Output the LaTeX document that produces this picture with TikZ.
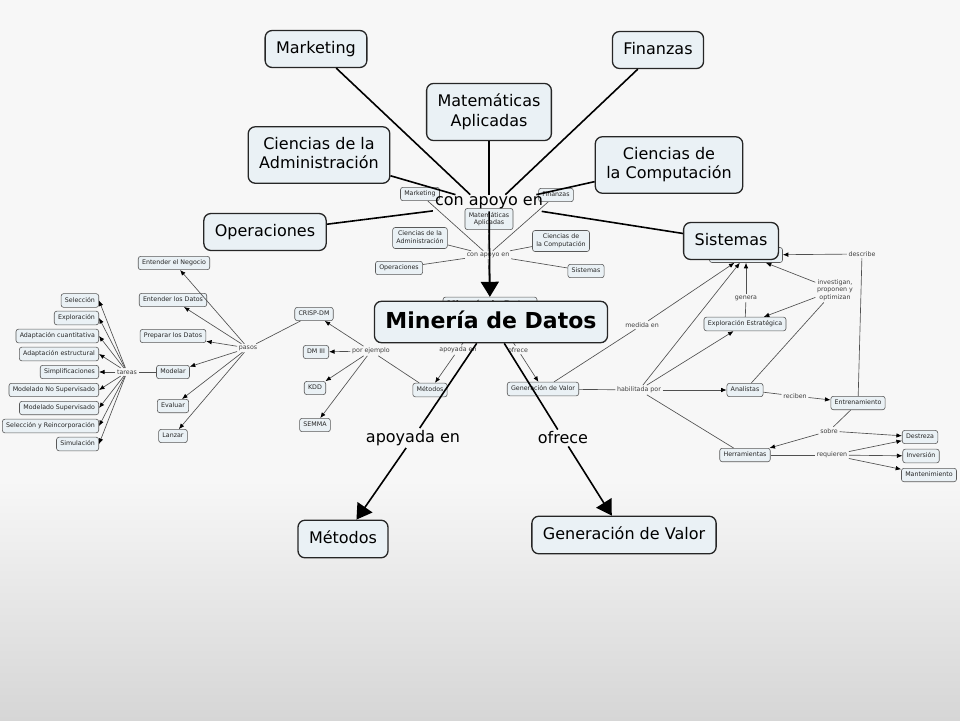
\documentclass[tikz,border=0pt]{standalone}
\usepackage{fontspec}
\setmainfont{DejaVu Sans}
\usepackage{tikz}
\usetikzlibrary{arrows.meta}

\definecolor{nodefill}{HTML}{EAF1F5}
\definecolor{bgtop}{HTML}{F7F7F7}
\definecolor{bgbottom}{HTML}{D6D6D6}
\definecolor{linkgray}{HTML}{505050}

\begin{document}
\begin{tikzpicture}[x=1pt, y=-1pt,
  bigbox/.style={draw=black!85, line width=1.3pt, rounded corners=7pt, fill=nodefill, align=center, font=\fontsize{16}{19.5}\selectfont, inner xsep=11pt, inner ysep=10.5pt, text depth=3.8pt},
  smallbox/.style={draw=black!65, line width=0.6pt, rounded corners=2.5pt, fill=nodefill, align=center, font=\fontsize{6.3}{7.6}\selectfont, text=black!85, inner xsep=3.8pt, inner ysep=3.6pt, text depth=1.4pt},
  biglabel/.style={font=\fontsize{16}{19.5}\selectfont, inner sep=2pt},
  smalllabel/.style={font=\fontsize{6.3}{7.6}\selectfont, text=black!75, inner sep=1.6pt, align=center},
  thinlink/.style={line width=0.65pt, linkgray},
  thinarrow/.style={thinlink, -{Latex[length=5.5pt, width=4.5pt, black]}},
  thicklink/.style={line width=1.6pt, black},
  thickarrow/.style={thicklink, -{Triangle[length=15pt, width=18pt]}}]

  \useasboundingbox (0, 0) rectangle (960, 720);
  \fill[bgtop] (0, 0) rectangle (960, 480);
  \shade[top color=bgtop, bottom color=bgbottom] (0, 480) rectangle (960, 720);

  \node[smallbox] (mkts) at (420, 194) {Marketing};
  \node[smallbox] (fins) at (556, 195) {Finanzas};
  \node[smallbox] (mats) at (489, 219) {Matemáticas\\Aplicadas};
  \node[smallbox] (adms) at (420, 238) {Ciencias de la\\Administración};
  \node[smallbox] (comps) at (561, 241) {Ciencias de\\la Computación};
  \node[smallbox] (opers) at (399, 268) {Operaciones};
  \node[smallbox] (siss) at (586, 271) {Sistemas};
  \node[smalllabel] (apoyos) at (488, 255) {con apoyo en};

  \draw[thinlink] (mkts) -- (apoyos);
  \draw[thinlink] (fins) -- (apoyos);
  \draw[thinlink] (mats) -- (apoyos);
  \draw[thinlink] (adms) -- (apoyos);
  \draw[thinlink] (comps) -- (apoyos);
  \draw[thinlink] (opers) -- (apoyos);
  \draw[thinlink] (siss) -- (apoyos);

  \node[smallbox, font=\fontsize{9}{11}\selectfont\bfseries] (minsmall) at (490, 305) {Minería de Datos};
  \draw[thinarrow] (apoyos) -- (minsmall);

  \node[smalllabel] (apoyadas) at (458, 350) {apoyada en};
  \node[smalllabel] (ofreces) at (518, 350) {ofrece};
  \node[smallbox] (metodoss) at (430, 390) {Métodos};
  \node[smallbox] (valors) at (543, 389) {Generación de Valor};
  \draw[thinlink] (minsmall) -- (apoyadas);
  \draw[thinlink] (minsmall) -- (ofreces);
  \draw[thinarrow] (apoyadas) -- (metodoss);
  \draw[thinarrow] (ofreces) -- (valors);

  \node[smalllabel] (ejemplo) at (371, 351) {por ejemplo};
  \node[smallbox] (crisp) at (314, 314) {CRISP-DM};
  \node[smallbox] (dmiii) at (316, 352) {DM III};
  \node[smallbox] (kdd) at (315, 388) {KDD};
  \node[smallbox] (semma) at (315, 425) {SEMMA};
  \draw[thinlink] (metodoss) -- (ejemplo);
  \draw[thinarrow] (ejemplo) -- (crisp);
  \draw[thinarrow] (ejemplo) -- (dmiii);
  \draw[thinarrow] (ejemplo) -- (kdd);
  \draw[thinarrow] (ejemplo) -- (semma);

  \node[smalllabel] (pasos) at (248, 348) {pasos};
  \node[smallbox] (negocio) at (174, 263) {Entender el Negocio};
  \node[smallbox] (entdatos) at (173, 300) {Entender los Datos};
  \node[smallbox] (prepdatos) at (173, 336) {Preparar los Datos};
  \node[smallbox] (modelar) at (173, 372) {Modelar};
  \node[smallbox] (evaluar) at (173, 406) {Evaluar};
  \node[smallbox] (lanzar) at (173, 436) {Lanzar};
  \draw[thinlink] (crisp) -- (pasos);
  \draw[thinarrow] (pasos) -- (negocio);
  \draw[thinarrow] (pasos) -- (entdatos);
  \draw[thinarrow] (pasos) -- (prepdatos);
  \draw[thinarrow] (pasos) -- (modelar);
  \draw[thinarrow] (pasos) -- (evaluar);
  \draw[thinarrow] (pasos) -- (lanzar);

  \node[smalllabel] (tareas) at (127, 372) {tareas};
  \node[smallbox, anchor=east] (seleccion) at (99, 300.5) {Selección};
  \node[smallbox, anchor=east] (exploracion) at (99, 318) {Exploración};
  \node[smallbox, anchor=east] (adcuant) at (99, 336) {Adaptación cuantitativa};
  \node[smallbox, anchor=east] (adestr) at (99, 354) {Adaptación estructural};
  \node[smallbox, anchor=east] (simplif) at (99, 372) {Simplificaciones};
  \node[smallbox, anchor=east] (modnosup) at (99, 390) {Modelado No Supervisado};
  \node[smallbox, anchor=east] (modsup) at (99, 408) {Modelado Supervisado};
  \node[smallbox, anchor=east] (selreinc) at (99, 426) {Selección y Reincorporación};
  \node[smallbox, anchor=east] (simulacion) at (99, 444) {Simulación};
  \draw[thinlink] (modelar) -- (tareas);
  \draw[thinarrow] (tareas) -- (seleccion.east);
  \draw[thinarrow] (tareas) -- (exploracion.east);
  \draw[thinarrow] (tareas) -- (adcuant.east);
  \draw[thinarrow] (tareas) -- (adestr.east);
  \draw[thinarrow] (tareas) -- (simplif.east);
  \draw[thinarrow] (tareas) -- (modnosup.east);
  \draw[thinarrow] (tareas) -- (modsup.east);
  \draw[thinarrow] (tareas) -- (selreinc.east);
  \draw[thinarrow] (tareas) -- (simulacion.east);

  \node[smallbox, minimum width=73pt, minimum height=15pt] (sysbox) at (746, 255) {};
  \node[smalllabel] (describe) at (862, 254) {describe};
  \node[smalllabel] (investigan) at (835, 290) {investigan,\\proponen y\\optimizan};
  \node[smalllabel] (genera) at (746, 298) {genera};
  \node[smallbox] (explora) at (745, 324) {Exploración Estratégica};
  \node[smalllabel] (medida) at (642, 325) {medida en};
  \node[smalllabel] (habilitada) at (639, 390) {habilitada por};
  \node[smallbox] (analistas) at (745, 390) {Analistas};
  \node[smalllabel] (reciben) at (795, 396) {reciben};
  \node[smallbox] (entrena) at (858, 403) {Entrenamiento};
  \node[smalllabel] (sobre) at (829, 431) {sobre};
  \node[smallbox] (herram) at (745, 455) {Herramientas};
  \node[smalllabel] (requieren) at (832, 455) {requieren};
  \node[smallbox] (destreza) at (920, 437) {Destreza};
  \node[smallbox] (inversion) at (921, 456) {Inversión};
  \node[smallbox] (manten) at (929, 475) {Mantenimiento};

  \draw[thinlink] (valors) -- (medida);
  \draw[thinarrow] (medida) -- (sysbox);
  \draw[thinlink] (valors) -- (habilitada);
  \draw[thinarrow] (habilitada) -- (analistas);
  \draw[thinarrow] (habilitada) -- (sysbox);
  \draw[thinarrow] (habilitada) -- (explora);
  \draw[thinlink] (habilitada) -- (herram);
  \draw[thinlink] (explora) -- (genera);
  \draw[thinarrow] (genera) -- (sysbox);
  \draw[thinlink] (analistas) -- (investigan);
  \draw[thinarrow] (investigan) -- (sysbox);
  \draw[thinarrow] (investigan) -- (explora);
  \draw[thinlink] (analistas) -- (reciben);
  \draw[thinarrow] (reciben) -- (entrena);
  \draw[thinlink] (entrena) -- (describe);
  \draw[thinarrow] (describe) -- (sysbox);
  \draw[thinlink] (entrena) -- (sobre);
  \draw[thinarrow] (sobre) -- (herram);
  \draw[thinarrow] (sobre) -- (destreza);
  \draw[thinlink] (herram) -- (requieren);
  \draw[thinarrow] (requieren) -- (destreza);
  \draw[thinarrow] (requieren) -- (inversion);
  \draw[thinarrow] (requieren) -- (manten);

  \node[bigbox] (mkt) at (316, 49) {Marketing};
  \node[bigbox] (fin) at (658, 50) {Finanzas};
  \node[bigbox] (mat) at (489, 112) {Matemáticas\\Aplicadas};
  \node[bigbox] (adm) at (319, 155) {Ciencias de la\\Administración};
  \node[bigbox] (comp) at (669, 165) {Ciencias de\\la Computación};
  \node[bigbox] (oper) at (265, 232) {Operaciones};
  \node[bigbox] (sis) at (731, 241) {Sistemas};
  \node[biglabel] (conbig) at (489, 203) {con apoyo en};

  \draw[thicklink] (mkt) -- (conbig.156);
  \draw[thicklink] (mat) -- (conbig.north);
  \draw[thicklink] (fin) -- (conbig.27);
  \draw[thicklink] (adm) -- (conbig.166);
  \draw[thicklink] (oper) -- (conbig.188);
  \draw[thicklink] (comp) -- (conbig.10);
  \draw[thicklink] (sis) -- (conbig.-9);
  \draw[thickarrow] (conbig) -- (minsmall);

  \node[bigbox, font=\fontsize{22}{26}\selectfont\bfseries, inner ysep=10pt] (mineria) at (491, 322) {Minería de Datos};
  \node[biglabel] (apoyabig) at (413, 438) {apoyada en};
  \node[biglabel] (ofrecebig) at (563, 438) {ofrece};
  \node[bigbox] (metodos) at (343, 539) {Métodos};
  \node[bigbox] (valor) at (624, 535) {Generación de Valor};

  \draw[thicklink] (mineria) -- (apoyabig);
  \draw[thickarrow] (apoyabig) -- (metodos);
  \draw[thicklink] (mineria) -- (ofrecebig);
  \draw[thickarrow] (ofrecebig) -- (valor);
\end{tikzpicture}
\end{document}
